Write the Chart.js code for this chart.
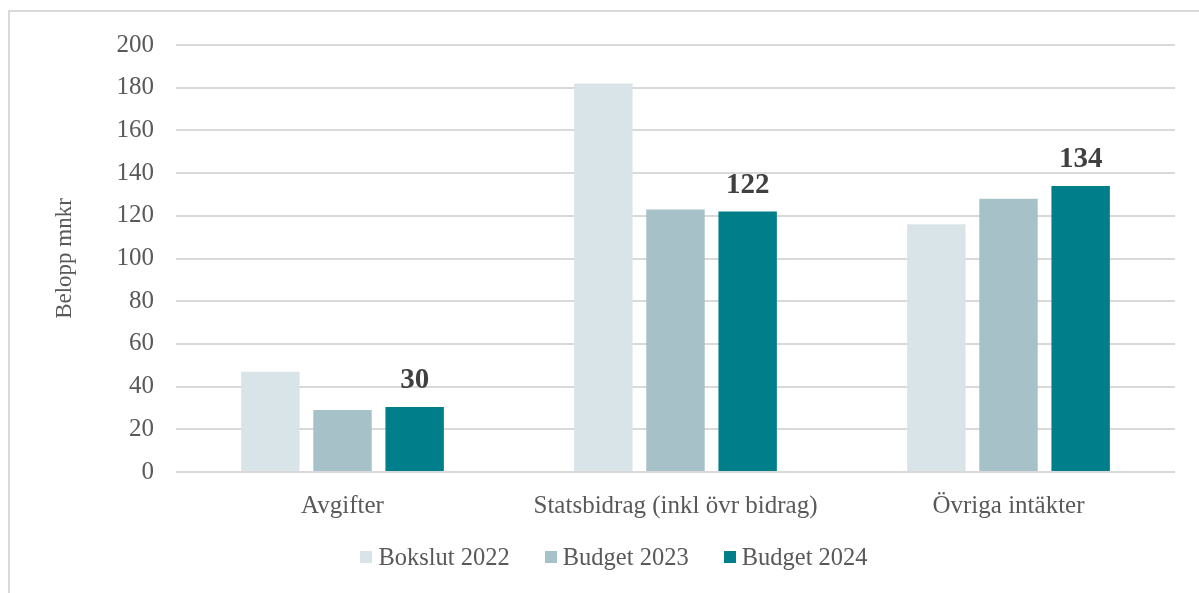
<!DOCTYPE html>
<html>
<head>
    <meta charset="utf-8">
    <title>Intäkter per slag</title>
    <script src="https://cdn.jsdelivr.net/npm/chart.js"></script>
    <style>
        body {
            margin: 0;
            background: #ffffff;
            overflow: hidden;
            font-family: "Liberation Serif", "Times New Roman", serif;
        }
        .frame {
            position: absolute;
            left: 8px;
            top: 10px;
            width: 1300px;
            height: 700px;
            border: 2px solid #d9d9d9;
        }
        .chart-box {
            position: absolute;
            left: 0;
            top: 0;
            width: 1199px;
            height: 593px;
        }
        .legend {
            position: absolute;
            left: 0;
            width: 1199px;
            top: 543px;
            height: 28px;
            padding-left: 29px;
            box-sizing: border-box;
            display: flex;
            justify-content: center;
            align-items: center;
            gap: 35px;
            font-size: 24.5px;
            color: #595959;
        }
        .legend span.item {
            display: flex;
            align-items: center;
            gap: 6px;
        }
        .legend span.box {
            width: 12px;
            height: 12px;
            display: inline-block;
        }
    </style>
</head>
<body>
    <div class="frame"></div>
    <div class="chart-box">
        <canvas id="incomeChart"></canvas>
    </div>
    <div class="legend" id="legend"></div>

    <script>
        const categories = ['Avgifter', 'Statsbidrag (inkl övr bidrag)', 'Övriga intäkter'];
        const seriesNames = ['Bokslut 2022', 'Budget 2023', 'Budget 2024'];
        const bokslut2022 = [47, 182, 116];
        const budget2023 = [29, 123, 128];
        const budget2024 = [30.4, 122, 134];
        const yTicks = [0, 20, 40, 60, 80, 100, 120, 140, 160, 180, 200];

        const colors = ['#d9e4e9', '#a6c2c8', '#007f8b'];
        const fontFamily = '"Liberation Serif", "Times New Roman", serif';

        // legend drawn as html so box/text spacing matches
        document.getElementById('legend').innerHTML = seriesNames.map((name, i) =>
            `<span class="item"><span class="box" style="background:${colors[i]}"></span>${name}</span>`
        ).join('');

        // value labels above the Budget 2024 bars
        const valueLabels = {
            id: 'valueLabels',
            afterDatasetsDraw(chart) {
                const ctx = chart.ctx;
                const meta = chart.getDatasetMeta(2);
                ctx.save();
                ctx.font = 'bold 29px ' + fontFamily;
                ctx.fillStyle = '#404040';
                ctx.textAlign = 'center';
                ctx.textBaseline = 'alphabetic';
                meta.data.forEach((bar, i) => {
                    ctx.fillText(Math.round(budget2024[i]), bar.x, bar.y - 19);
                });
                ctx.restore();
            }
        };

        const ctx = document.getElementById('incomeChart').getContext('2d');
        new Chart(ctx, {
            type: 'bar',
            data: {
                labels: categories,
                datasets: [bokslut2022, budget2023, budget2024].map((values, i) => ({
                    label: seriesNames[i],
                    data: values,
                    backgroundColor: colors[i],
                    categoryPercentage: 0.65,
                    barPercentage: 0.81
                }))
            },
            options: {
                responsive: true,
                maintainAspectRatio: false,
                animation: false,
                layout: {
                    padding: { left: 40, top: 45, right: 24, bottom: 71.5 }
                },
                plugins: {
                    tooltip: { enabled: false },
                    legend: { display: false }
                },
                scales: {
                    x: {
                        grid: { display: false },
                        border: { display: false },
                        ticks: {
                            padding: 11,
                            color: '#595959',
                            font: { family: fontFamily, size: 25 }
                        },
                        afterFit: scale => { scale.height = 49.5; }
                    },
                    y: {
                        min: yTicks[0],
                        max: yTicks[yTicks.length - 1],
                        afterBuildTicks: scale => {
                            scale.ticks = yTicks.map(v => ({ value: v }));
                        },
                        grid: {
                            color: '#d9d9d9',
                            lineWidth: 2,
                            drawTicks: false
                        },
                        border: { display: false },
                        ticks: {
                            padding: 22,
                            color: '#595959',
                            font: { family: fontFamily, size: 25 }
                        },
                        title: {
                            display: true,
                            text: 'Belopp mnkr',
                            color: '#595959',
                            padding: { top: 11, bottom: 0 },
                            font: { family: fontFamily, size: 23 }
                        },
                        afterFit: scale => { scale.width = 136; }
                    }
                }
            },
            plugins: [valueLabels]
        });
    </script>
</body>
</html>
